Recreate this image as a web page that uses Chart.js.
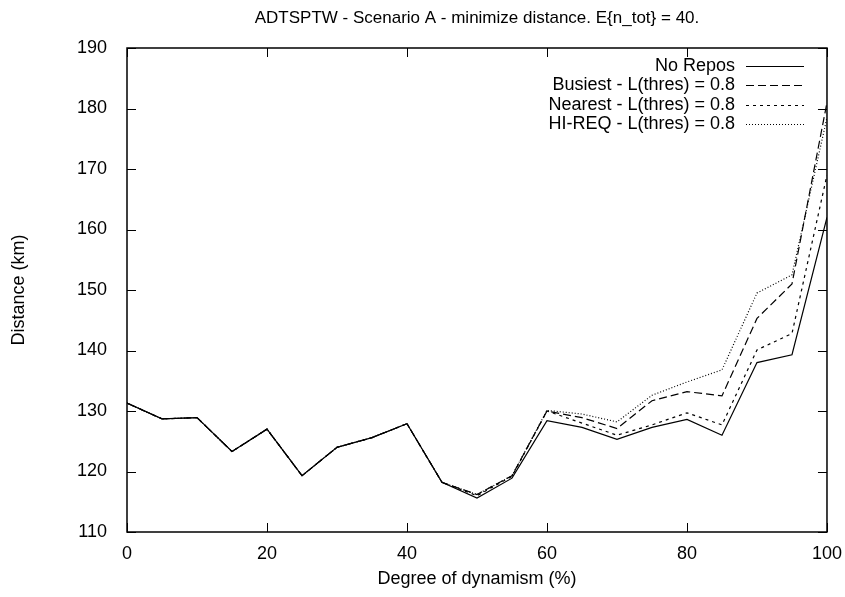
<!DOCTYPE html>
<html>
<head>
<meta charset="utf-8">
<script src="https://cdn.jsdelivr.net/npm/chart.js@4.4.1/dist/chart.umd.min.js"></script>
<style>
  body { margin: 0; background: #fff; }
  #chart { display: block; }
</style>
</head>
<body>
<canvas id="chart" width="845" height="597"></canvas>
<script>
const dynamism = [0, 5, 10, 15, 20, 25, 30, 35, 40, 45, 50, 55, 60, 65, 70, 75, 80, 85, 90, 95, 100];

const noRepos = [131.3, 128.7, 128.9, 123.3, 127.0, 119.3, 124.0, 125.6, 127.9, 118.2, 115.6, 118.9,
    128.4, 127.3, 125.3, 127.3, 128.6, 126.0, 138.0, 139.3, 162.0];
const busiest = [131.3, 128.7, 128.9, 123.3, 127.0, 119.3, 124.0, 125.6, 127.9, 118.2, 116.2, 119.3,
    130.0, 128.9, 127.1, 131.7, 133.2, 132.5, 145.3, 151.0, 181.0];
const nearest = [131.3, 128.7, 128.9, 123.3, 127.0, 119.3, 124.0, 125.6, 127.9, 118.2, 116.0, 119.2,
    130.0, 128.0, 126.0, 127.7, 129.7, 127.7, 140.1, 142.8, 169.0];
const hiReq = [131.3, 128.7, 128.9, 123.3, 127.0, 119.3, 124.0, 125.6, 127.9, 118.2, 116.2, 119.3,
    130.1, 129.5, 128.2, 132.6, 134.8, 136.8, 149.5, 152.5, 178.5];

const xTicks = [0, 20, 40, 60, 80, 100];
const yTicks = [110, 120, 130, 140, 150, 160, 170, 180, 190];

const FONT = "'Liberation Sans', Arial, sans-serif";

function toPoints(values) {
    return values.map((v, i) => ({ x: dynamism[i], y: v }));
}

function line(label, values, dash) {
    return {
        label: label,
        data: toPoints(values),
        borderColor: '#000',
        borderWidth: 1.2,
        borderDash: dash,
        pointRadius: 0,
        tension: 0,
        fill: false,
    };
}

// gnuplot style frame: box round the plot with ticks pointing inward on all four sides
const framePlugin = {
    id: 'frame',
    afterDraw(chart) {
        const ctx = chart.ctx;
        const a = chart.chartArea;
        const xs = chart.scales.x;
        const ys = chart.scales.y;
        const len = 9;
        ctx.save();
        ctx.strokeStyle = '#000';
        ctx.lineWidth = 1.5;
        ctx.strokeRect(a.left, a.top, a.right - a.left, a.bottom - a.top);
        ctx.lineWidth = 1;
        ctx.beginPath();
        xTicks.forEach(t => {
            const px = Math.round(xs.getPixelForValue(t)) + 0.5;
            ctx.moveTo(px, a.bottom); ctx.lineTo(px, a.bottom - len);
            ctx.moveTo(px, a.top); ctx.lineTo(px, a.top + len);
        });
        yTicks.forEach(t => {
            const py = Math.round(ys.getPixelForValue(t)) + 0.5;
            ctx.moveTo(a.left, py); ctx.lineTo(a.left + len, py);
            ctx.moveTo(a.right, py); ctx.lineTo(a.right - len, py);
        });
        ctx.stroke();

        // key in the top right corner: text right aligned, sample line after it
        ctx.font = '18px ' + FONT;
        ctx.textAlign = 'right';
        ctx.textBaseline = 'middle';
        ctx.fillStyle = '#000';
        chart.data.datasets.forEach((ds, i) => {
            const y = 66 + i * 19.4;
            ctx.fillText(ds.label, 735, y);
            ctx.setLineDash(ds.borderDash || []);
            ctx.lineWidth = ds.borderWidth;
            ctx.beginPath();
            ctx.moveTo(746, Math.round(y) + 0.5);
            ctx.lineTo(804, Math.round(y) + 0.5);
            ctx.stroke();
        });
        ctx.restore();
    }
};

new Chart(document.getElementById('chart').getContext('2d'), {
    type: 'line',
    data: {
        datasets: [
            line('No Repos', noRepos, []),
            line('Busiest - L(thres) = 0.8', busiest, [8, 4]),
            line('Nearest - L(thres) = 0.8', nearest, [3, 4]),
            line('HI-REQ - L(thres) = 0.8', hiReq, [1, 2]),
        ],
    },
    options: {
        responsive: false,
        animation: false,
        layout: { padding: { left: 0, right: 13, top: 0, bottom: 0 } },
        plugins: {
            legend: { display: false },
            tooltip: { enabled: false },
            title: {
                display: true,
                fullSize: false,
                text: 'ADTSPTW - Scenario A - minimize distance. E{n_tot} = 40.',
                color: '#000',
                font: { family: FONT, size: 17, weight: 'normal' },
                padding: { top: 8, bottom: 19.6 },
            },
        },
        scales: {
            x: {
                type: 'linear',
                min: 0,
                max: 100,
                grid: { display: false },
                border: { display: false },
                afterBuildTicks(scale) { scale.ticks = xTicks.map(v => ({ value: v })); },
                afterFit(scale) { scale.height = 65; },
                ticks: { color: '#000', padding: 3, maxRotation: 0, font: { family: FONT, size: 18 } },
                title: {
                    display: true,
                    text: 'Degree of dynamism (%)',
                    color: '#000',
                    font: { family: FONT, size: 18 },
                    padding: { bottom: 7 },
                },
            },
            y: {
                min: 110,
                max: 190,
                grid: { display: false },
                border: { display: false },
                afterBuildTicks(scale) { scale.ticks = yTicks.map(v => ({ value: v })); },
                afterFit(scale) { scale.width = 127; },
                ticks: { color: '#000', padding: 12, font: { family: FONT, size: 18 } },
                title: {
                    display: true,
                    text: 'Distance (km)',
                    color: '#000',
                    font: { family: FONT, size: 18 },
                    padding: { top: 8 },
                },
            },
        },
    },
    plugins: [framePlugin],
});
</script>
</body>
</html>
